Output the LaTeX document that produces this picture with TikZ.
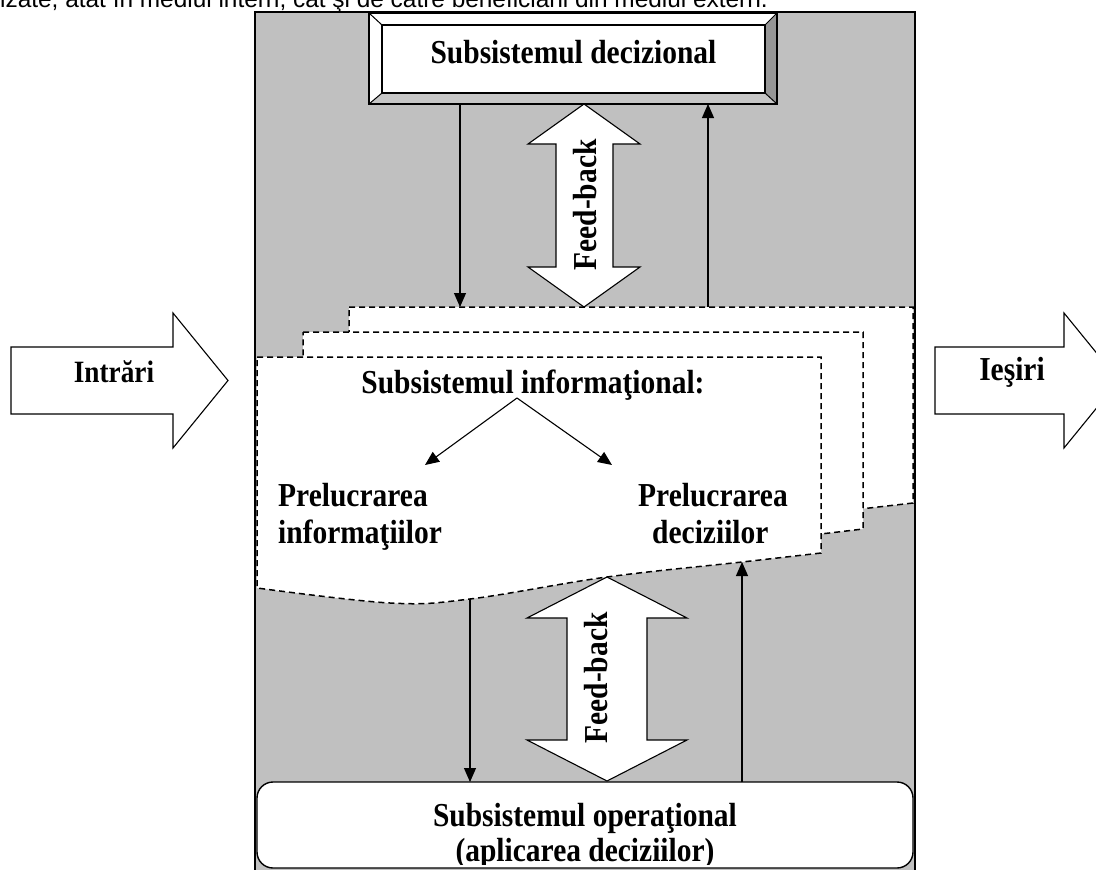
\documentclass[tikz,border=0pt]{standalone}
\usepackage{fontspec}
\setmainfont{Liberation Serif}
\newfontfamily\capfont[FakeStretch=0.88]{Liberation Serif}
\newfontfamily\bodyfont{Liberation Sans}
\usetikzlibrary{arrows.meta}
\definecolor{panelgray}{HTML}{C0C0C0}
\definecolor{bevdark}{HTML}{969696}
\definecolor{bevlight}{HTML}{C6C6C6}
\begin{document}
\begin{tikzpicture}[x=1pt,y=-1pt,
  lbl/.style={font=\capfont\bfseries\fontsize{33.5}{40}\selectfont, inner sep=0pt},
  conn/.style={line width=1.1pt, -{Triangle[length=14pt,width=12pt]}},
  pagebox/.style={fill=white, draw=black, line width=1.5pt, dash pattern=on 6pt off 4pt},
  blockarrow/.style={fill=white, draw=black, line width=1.1pt, line join=miter},
]
\useasboundingbox (0,0) rectangle (1096,870);
\clip (0,0) rectangle (1096,870);

% body text line, cut at the top
\node[anchor=base west, inner sep=0pt, font=\bodyfont\fontsize{24.4}{29}\selectfont] (bodytxt) at (0,7)
  {izate, atât în mediul intern, cât şi de către beneficiarii din mediul extern.};

% grey panel
\draw[line width=1.4pt, fill=panelgray] (255,12) rectangle (915,890);

% bevelled box: Subsistemul decizional
\fill[white] (369,13) -- (777,13) -- (765,25) -- (382,25) -- cycle;
\fill[white] (369,13) -- (382,25) -- (382,93) -- (369,104) -- cycle;
\fill[bevdark] (777,13) -- (777,104) -- (765,93) -- (765,25) -- cycle;
\fill[bevlight] (369,104) -- (777,104) -- (765,93) -- (382,93) -- cycle;
\draw[line width=1pt] (369,13) -- (382,25) (777,13) -- (765,25) (777,104) -- (765,93) (369,104) -- (382,93);
\draw[line width=1.2pt, fill=white] (382,25) rectangle (765,93);
\node[draw, line width=2pt, minimum width=408pt, minimum height=91pt, inner sep=0pt, outer sep=0pt] (dec) at (573,58.5) {};
\node[lbl, anchor=base] (dectxt) at (573.5,63) {Subsistemul decizional};

% stacked pages
\draw[pagebox] (349,307) -- (913,307) -- (913,503)
  -- plot[smooth, tension=0.6] coordinates {(913,503) (834,512) (699,527) (562,549) (482,553) (349,538)} -- cycle;
\draw[pagebox] (303,332) -- (863,332) -- (863,529)
  -- plot[smooth, tension=0.6] coordinates {(863,529) (786,538) (651,553) (514,575) (434,579) (303,564)} -- cycle;
\draw[pagebox] (257,357) -- (821,357) -- (821,553)
  -- plot[smooth, tension=0.6] coordinates {(821,553) (742,562) (607,577) (470,599) (390,603) (257,588)} -- cycle;

\coordinate (p3a) at (460,307);
\coordinate (p3b) at (708,307);
\coordinate (w1) at (470,599);
\coordinate (w2) at (742,562);

% operational box
\node[draw, line width=1.4pt, fill=white, rounded corners=16pt, minimum width=656pt, minimum height=86pt,
  inner sep=0pt, outer sep=0pt] (op) at (585,825) {};
\begin{scope}
  \clip (257,782) rectangle (913,864);
  \node[lbl, anchor=base] (optxt1) at (585,826) {Subsistemul operaţional};
  \node[lbl, anchor=base] (optxt2) at (585,861) {(aplicarea deciziilor)};
\end{scope}

% connectors top
\draw[conn] (dec.south -| p3a) -- (p3a);
\draw[conn] (p3b) -- (dec.south -| p3b);
% connectors bottom
\draw[conn] (w1) -- (op.north -| w1);
\draw[conn] (op.north -| w2) -- (w2);

% feed-back double arrows
\draw[blockarrow] (584,104) -- (640,144) -- (613,144) -- (613,267) -- (640,267) -- (584,307)
  -- (528,267) -- (556,267) -- (556,144) -- (528,144) -- cycle;
\node[lbl, rotate=90] (fb1) at (585,205) {Feed-back};
\draw[blockarrow] (607,577) -- (687,618) -- (647,618) -- (647,740) -- (687,740) -- (607,781)
  -- (527,740) -- (567,740) -- (567,618) -- (527,618) -- cycle;
\node[lbl, rotate=90] (fb2) at (596,678) {Feed-back};

% information subsystem content
\node[lbl, anchor=base] (info) at (533,393) {Subsistemul informaţional:};
\coordinate (apex) at (517,398);
\node[lbl, anchor=base west] (pi1) at (278,506) {Prelucrarea};
\node[lbl, anchor=base west] (pi2) at (278,543) {informaţiilor};
\node[lbl, anchor=base west] (pd1) at (638,506) {Prelucrarea};
\node[lbl, anchor=base west] (pd2) at (652,543) {deciziilor};
\coordinate (tipl) at (425,465);
\coordinate (tipr) at (612,465);
\draw[conn] (apex) -- (tipl);
\draw[conn] (apex) -- (tipr);

% input / output block arrows
\draw[blockarrow] (11,347) -- (173,347) -- (173,313) -- (228,380.5) -- (173,448) -- (173,414) -- (11,414) -- cycle;
\node[lbl, font=\capfont\bfseries\fontsize{31}{36}\selectfont] (intr) at (114,372) {Intrări};
\draw[blockarrow] (935,347) -- (1064,347) -- (1064,313) -- (1119,380.5) -- (1064,448) -- (1064,414) -- (935,414) -- cycle;
\node[lbl] (ies) at (1012,372) {Ieşiri};
\end{tikzpicture}
\end{document}
